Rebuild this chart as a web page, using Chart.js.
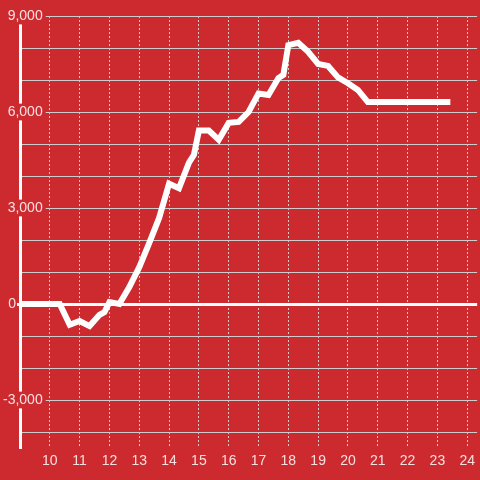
<!DOCTYPE html>
<html>
<head>
<meta charset="utf-8">
<script src="https://cdn.jsdelivr.net/npm/chart.js@4"></script>
<style>
  html, body { margin: 0; padding: 0; background: #cd2a2f; }
  #wrap { width: 480px; height: 480px; }
</style>
</head>
<body>
<div id="wrap"><canvas id="chart" width="480" height="480"></canvas></div>
<script>
// time of day (h:mm) and running total
const times = ['9:00', '9:20', '9:40', '10:00', '10:20', '10:40', '11:00', '11:20', '11:40', '11:50',
  '12:00', '12:20', '12:40', '13:00', '13:20', '13:40', '14:00', '14:20', '14:40', '14:50',
  '15:00', '15:20', '15:40', '16:00', '16:20', '16:40', '17:00', '17:20', '17:40', '17:50',
  '18:00', '18:20', '18:40', '19:00', '19:20', '19:40', '20:00', '20:20', '20:40',
  '21:00', '21:20', '21:40', '22:00', '22:20', '22:40', '23:00', '23:20'];
const values = [0, 0, 0, 0, 0, -650, -530, -690, -340, -250,
  60, 0, 530, 1150, 1900, 2690, 3760, 3620, 4420, 4660,
  5420, 5420, 5130, 5660, 5690, 6000, 6580, 6530, 7060, 7160,
  8090, 8160, 7880, 7500, 7440, 7080, 6900, 6690, 6310,
  6310, 6310, 6310, 6310, 6310, 6310, 6310, 6310];
const xTicks = [10, 11, 12, 13, 14, 15, 16, 17, 18, 19, 20, 21, 22, 23, 24];
const yTicks = [-4000, -3000, -2000, -1000, 0, 1000, 2000, 3000, 4000, 5000, 6000, 7000, 8000, 9000];
const yLabelled = [9000, 6000, 3000, -3000];

const red = '#cd2a2f';
const gridGrey = '#cccccc';
const labelColor = 'rgba(255,255,255,0.85)';

function toHours(t) {
  const p = t.split(':');
  return parseInt(p[0]) + parseInt(p[1]) / 60;
}

const points = times.map((t, i) => ({ x: toHours(t), y: values[i] }));

Chart.defaults.font.family = "'Liberation Sans', Arial, sans-serif";
Chart.defaults.font.size = 14;
Chart.defaults.color = labelColor;

new Chart(document.getElementById('chart'), {
  type: 'line',
  data: {
    datasets: [{
      data: points,
      borderColor: '#ffffff',
      borderWidth: 6,
      borderCapStyle: 'square',
      pointRadius: 0,
      tension: 0,
      fill: false
    }]
  },
  options: {
    responsive: false,
    animation: false,
    layout: { padding: { top: 16, left: 0, right: 0, bottom: 0 } },
    plugins: { legend: { display: false }, tooltip: { enabled: false } },
    scales: {
      x: {
        type: 'linear',
        min: 9,
        max: 9 + 460 / 30,
        afterBuildTicks: (s) => { s.ticks = xTicks.map(v => ({ value: v })); },
        afterFit: (s) => { s.height = 32; },
        grid: { color: gridGrey, lineWidth: 1, drawTicks: false },
        border: { display: false, dash: [2, 2] },
        ticks: { padding: 5, maxRotation: 0, autoSkip: false, callback: (v) => String(v) }
      },
      y: {
        position: 'left',
        weight: 0,
        min: -4500,
        max: 9000,
        afterBuildTicks: (s) => { s.ticks = yTicks.map(v => ({ value: v })); },
        afterFit: (s) => { s.width = 0; },
        grid: {
          drawTicks: false,
          color: (c) => c.tick && c.tick.value === 0 ? '#ffffff' : gridGrey,
          lineWidth: (c) => c.tick && c.tick.value === 0 ? 3 : 1
        },
        border: { display: true, color: '#ffffff', width: 3 },
        ticks: {
          mirror: true,
          crossAlign: 'far',
          padding: -17,
          autoSkip: false,
          callback: (v) => yLabelled.includes(v) ? v.toLocaleString('en-US') : '',
          showLabelBackdrop: (c) => c.tick && yLabelled.includes(c.tick.value),
          backdropColor: red,
          backdropPadding: { left: 3, right: 3, top: 0, bottom: 0 }
        }
      },
      y0: {
        position: 'left',
        weight: 1,
        min: -4500,
        max: 9000,
        afterBuildTicks: (s) => { s.ticks = [{ value: 0 }]; },
        afterFit: (s) => { s.width = 20; },
        grid: {
          drawOnChartArea: false,
          drawTicks: true,
          tickLength: 3,
          tickWidth: 3,
          tickColor: '#ffffff'
        },
        border: { display: false },
        ticks: { padding: 1, callback: (v) => String(v) }
      }
    }
  }
});
</script>
</body>
</html>
